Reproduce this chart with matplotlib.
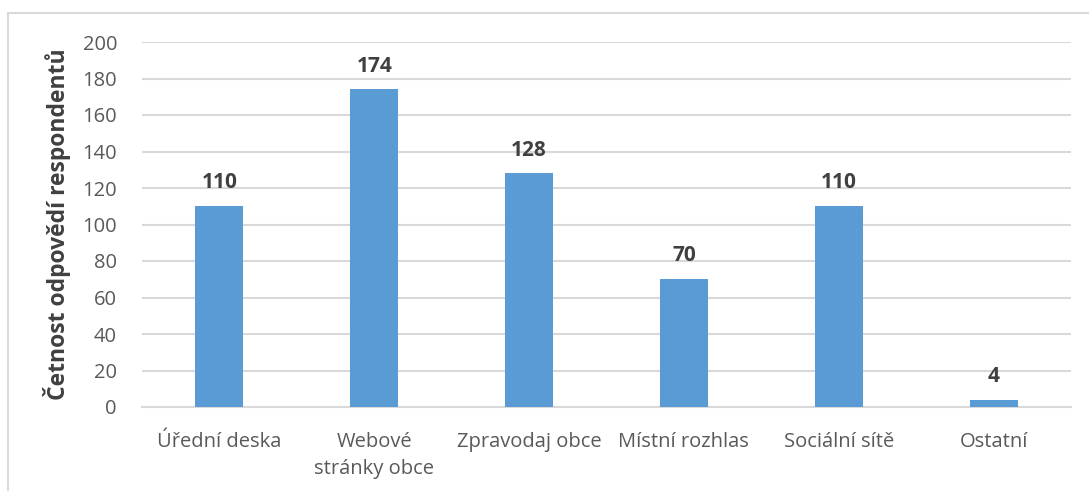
import matplotlib
matplotlib.use("Agg")
import matplotlib.pyplot as plt
from matplotlib.patches import Rectangle

categories = ["Úřední deska", "Webové\nstránky obce", "Zpravodaj obce",
              "Místní rozhlas", "Sociální sítě", "Ostatní"]
values = [110, 174, 128, 70, 110, 4]
y_ticks = [0, 20, 40, 60, 80, 100, 120, 140, 160, 180, 200]

plt.rcParams["font.family"] = ["Open Sans", "DejaVu Sans"]

W, H = 1089, 491
fig = plt.figure(figsize=(W / 100, H / 100), dpi=100)
ax = fig.add_axes([142 / W, 1 - 407 / H, (1071 - 142) / W, (407 - 42) / H])

# chart border (extends off the right/bottom edges)
fig.patches.append(Rectangle((8 / W, -0.1), 1.2, 1 - 13 / H + 0.1,
                             transform=fig.transFigure, fill=False,
                             edgecolor="#D9D9D9", linewidth=1.5, zorder=0))

x = range(len(categories))
ax.bar(x, values, width=0.31, color="#5B9BD5", zorder=3)
for xi, v in zip(x, values):
    ax.text(xi, v + 7, str(v), ha="center", va="bottom", fontsize=15,
            fontweight="bold", color="#404040")

ax.set_xlim(-0.5, len(categories) - 0.5)
ax.set_ylim(0, 200)
ax.set_yticks(y_ticks)
ax.set_xticks(list(x))
ax.set_xticklabels(categories, fontsize=14.5, color="#595959", linespacing=1.45)
ax.tick_params(axis="y", labelsize=14.5, labelcolor="#595959", length=0, pad=18)
ax.tick_params(axis="x", length=0, pad=18)
for lbl in ax.get_xticklabels():
    lbl.set_verticalalignment("top")

ax.grid(axis="y", color="#D9D9D9", linewidth=1.5, zorder=0)
for s in ["top", "right", "left"]:
    ax.spines[s].set_visible(False)
ax.spines["bottom"].set_color("#D9D9D9")
ax.spines["bottom"].set_linewidth(1.5)

ax.set_ylabel("Četnost odpovědí respondentů", fontsize=16.5, fontweight="bold",
              color="#404040", labelpad=8)

fig.savefig("out.png", dpi=100)
